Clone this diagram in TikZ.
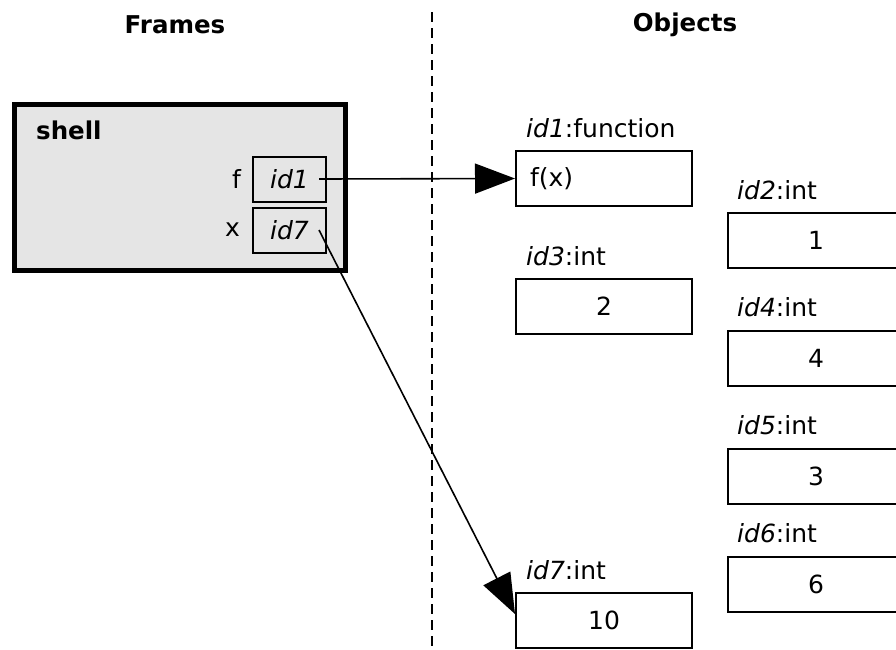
\documentclass[tikz,border=0pt]{standalone}
\usepackage{fontspec}
\setmainfont{DejaVu Sans}
\usetikzlibrary{arrows.meta,positioning}
\tikzset{
  txt/.style={font=\fontsize{25}{30}\selectfont, inner sep=0pt},
  hd/.style={inner sep=0pt, font=\fontsize{24.5}{29}\selectfont\bfseries},
  obj/.style={draw, line width=2pt, rectangle, minimum width=176pt, minimum height=55pt, inner sep=0pt, font=\fontsize{25}{30}\selectfont, fill=white},
  ref/.style={draw, line width=2pt, rectangle, minimum width=73pt, minimum height=45pt, inner sep=0pt, font=\fontsize{25}{30}\selectfont\itshape},
  lbl/.style={txt, anchor=base west},
  arr/.style={-{Triangle[length=40pt,width=30pt]}, line width=1.6pt},
}
\begin{document}
\begin{tikzpicture}[x=1pt,y=-1pt]
\useasboundingbox (0,0) rectangle (896,649);
\node[hd] (hframes) at (175,25) {Frames};
\node[hd] (hobjects) at (685,25) {Objects};
\coordinate (divtop) at (432,12);
\coordinate (divbot) at (432,649);
\draw[dash pattern=on 10pt off 6pt, line width=1.3pt] (divtop) -- (divbot);
% frame
\node[draw, line width=5pt, fill=black!10, minimum width=331pt, minimum height=166pt, inner sep=0pt] (shell) at (180,187.5) {};
\node[hd, anchor=west] (shellname) at (36,130) {shell};
\node[ref] (fid) at (289.5,179) {id1};
\node[ref] (xid) at (289.5,230) {id7};
\node[txt, left=11pt of fid] (fname) {f};
\node[txt, left=12pt of xid] (xname) {x};
\coordinate (fout) at ([xshift=-8pt]fid.east);
\coordinate (xout) at ([xshift=-8pt]xid.east);
% objects
\node[obj, inner xsep=14pt, text width=148pt, align=left] (o1) at (604,178.5) {f(x)};
\node[lbl] (l1) at ([xshift=11pt,yshift=13pt]o1.north west) {\textit{id1}:function};
\node[obj] (o2) at (816,240.5) {1};
\node[lbl] (l2) at ([xshift=10pt,yshift=13pt]o2.north west) {\textit{id2}:int};
\node[obj] (o3) at (604,306.5) {2};
\node[lbl] (l3) at ([xshift=11pt,yshift=13pt]o3.north west) {\textit{id3}:int};
\node[obj] (o4) at (816,358) {4};
\node[lbl] (l4) at ([xshift=10pt,yshift=13pt]o4.north west) {\textit{id4}:int};
\node[obj] (o5) at (816,476) {3};
\node[lbl] (l5) at ([xshift=10pt,yshift=13pt]o5.north west) {\textit{id5}:int};
\node[obj] (o6) at (816,584) {6};
\node[lbl] (l6) at ([xshift=10pt,yshift=13pt]o6.north west) {\textit{id6}:int};
\node[obj] (o7) at (604,620.5) {10};
\node[lbl] (l7) at ([xshift=11pt,yshift=13pt]o7.north west) {\textit{id7}:int};
% references
\draw[arr] (fout) -- (o1.west);
\draw[arr] (xout) -- ([yshift=-22pt]o7.north west);
\end{tikzpicture}
\end{document}
